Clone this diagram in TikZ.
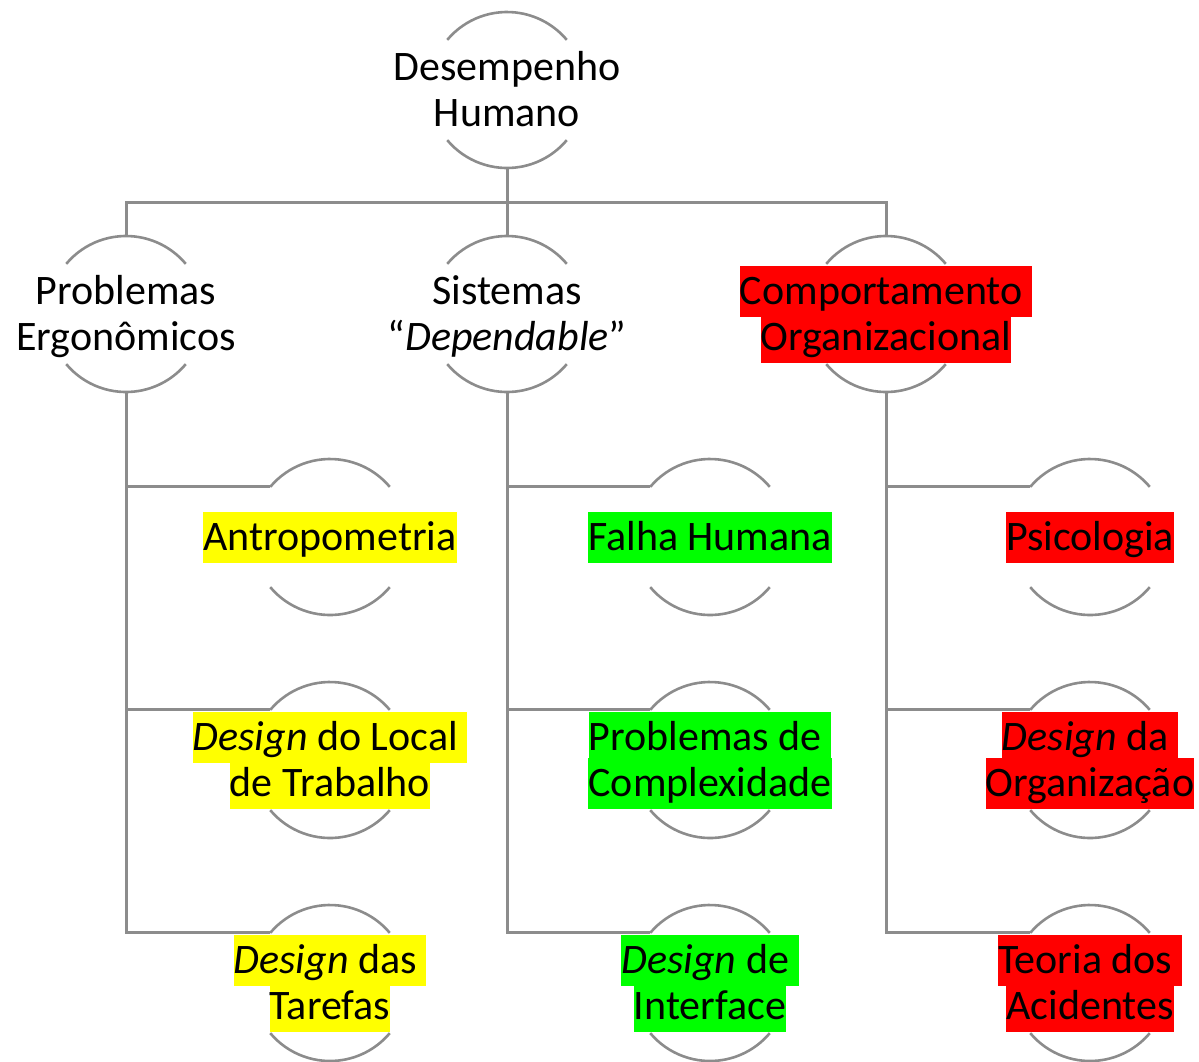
\documentclass[tikz,border=0pt]{standalone}
\usepackage{fontspec}
\setmainfont{Carlito}
\usepackage{xcolor}
\usepackage{tikz}
\usetikzlibrary{backgrounds}
\definecolor{linegray}{RGB}{140,140,140}
\definecolor{hlyellow}{RGB}{255,255,0}
\definecolor{hlgreen}{RGB}{0,255,0}
\definecolor{hlred}{RGB}{255,0,0}
\newcommand{\hlbox}[2]{{\setlength{\fboxsep}{0pt}\colorbox{#1}{\rule[-6pt]{0pt}{25.5pt}#2}}}
\newcommand{\plainline}[1]{\rule[-6pt]{0pt}{25.5pt}#1}
\newcommand{\lblfont}{\fontsize{21}{23}\selectfont\setlength{\lineskiplimit}{-20pt}}
\tikzset{
  ring/.style={circle, minimum size=78pt, inner sep=0pt, outer sep=0pt},
  lbl/.style={align=center, inner sep=0pt, font=\lblfont},
  arcline/.style={draw=linegray, line width=1.3pt},
  link/.style={draw=linegray, line width=1.5pt}
}

\begin{document}
\begin{tikzpicture}[x=0.5pt,y=0.5pt]
\useasboundingbox (0,0) rectangle (1199,-1061);

% ---- Level 0: root ----
\node[ring] (DH) at (507,-90) {};
\node[lbl] (DHt) at (DH) {\plainline{Desempenho}\\\plainline{Humano}};

% ---- Level 1 ----
\node[ring] (PE) at (126,-314) {};
\node[lbl] (PEt) at (PE) {\plainline{Problemas}\\\plainline{Ergonômicos}};

\node[ring] (SD) at (507,-314) {};
\node[lbl] (SDt) at (SD) {\plainline{Sistemas}\\\plainline{“\textit{Dependable}”}};

\node[ring] (CO) at (886,-314) {};
\node[lbl] (COt) at (CO) {\hlbox{hlred}{Comportamento\ }\\\hlbox{hlred}{Organizacional}};

% ---- Level 2: ergonomics ----
\node[ring] (AN) at (330,-537) {};
\node[lbl] (ANt) at (AN) {\hlbox{hlyellow}{Antropometria}};

\node[ring] (DL) at (330,-760) {};
\node[lbl] (DLt) at (DL) {\hlbox{hlyellow}{\textit{Design} do Local\ }\\\hlbox{hlyellow}{de Trabalho}};

\node[ring] (DT) at (330,-983) {};
\node[lbl] (DTt) at (DT) {\hlbox{hlyellow}{\textit{Design} das\ }\\\hlbox{hlyellow}{Tarefas}};

% ---- Level 2: dependable systems ----
\node[ring] (FH) at (710,-537) {};
\node[lbl] (FHt) at (FH) {\hlbox{hlgreen}{Falha Humana}};

\node[ring] (PC) at (710,-760) {};
\node[lbl] (PCt) at (PC) {\hlbox{hlgreen}{Problemas de\ }\\\hlbox{hlgreen}{Complexidade}};

\node[ring] (DI) at (710,-983) {};
\node[lbl] (DIt) at (DI) {\hlbox{hlgreen}{\textit{Design} de\ }\\\hlbox{hlgreen}{Interface}};

% ---- Level 2: organizational behaviour ----
\node[ring] (PS) at (1090,-537) {};
\node[lbl] (PSt) at (PS) {\hlbox{hlred}{Psicologia}};

\node[ring] (DO) at (1090,-760) {};
\node[lbl] (DOt) at (DO) {\hlbox{hlred}{\textit{Design} da\ }\\\hlbox{hlred}{Organização}};

\node[ring] (TA) at (1090,-983) {};
\node[lbl] (TAt) at (TA) {\hlbox{hlred}{Teoria dos\ }\\\hlbox{hlred}{Acidentes}};

\begin{scope}[on background layer]
% ---- open rings (top and bottom arcs) ----
\foreach \n in {DH,PE,SD,CO,AN,DL,DT,FH,PC,DI,PS,DO,TA}{
  \draw[arcline] (\n.140) arc[start angle=140, end angle=40, radius=39pt]
                 (\n.220) arc[start angle=220, end angle=320, radius=39pt];
}

% ---- connectors ----
\coordinate (bus) at (507,-202);
\draw[link] (DH.south) -- (bus) -| (PE.north);
\draw[link] (bus) -| (CO.north);
\draw[link] (bus) -- (SD.north);

\foreach \p/\a/\b/\c in {PE/AN/DL/DT, SD/FH/PC/DI, CO/PS/DO/TA}{
  \draw[link] (\p.south) |- (\a.140);
  \draw[link] (\p.south) |- (\b.140);
  \draw[link] (\p.south) |- (\c.140);
}
\end{scope}

\end{tikzpicture}
\end{document}
